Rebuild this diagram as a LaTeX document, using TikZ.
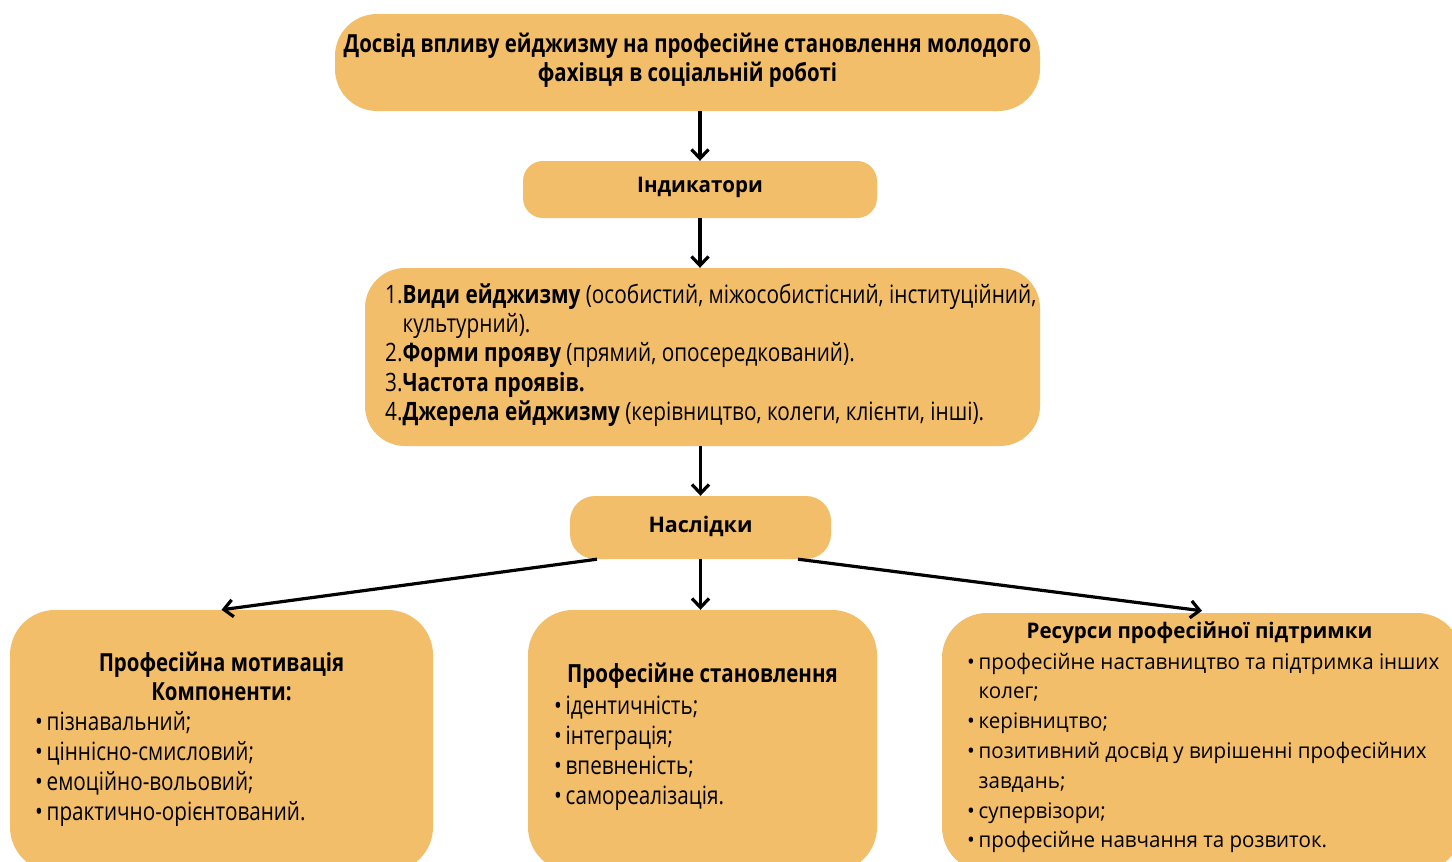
\documentclass[tikz,border=0pt]{standalone}
\usepackage{fontspec}
\setmainfont{Open Sans}
\newfontfamily\narrowfont[FakeStretch=0.82]{Open Sans}
\newfontfamily\midfont[FakeStretch=0.955]{Open Sans}
\usepackage{xcolor}
\usetikzlibrary{arrows.meta}
\definecolor{boxfill}{HTML}{F3BE6A}
\tikzset{
    box/.style={fill=boxfill, draw=none},
    arr/.style={line width=3.2pt, -{Straight Barb[length=9pt,width=17pt,line width=3.2pt]}}
}
\newcommand{\bul}{\makebox[11.5pt][l]{\textbullet}}

\begin{document}
\begin{tikzpicture}[x=1pt, y=-1pt]
        \clip (0,0) rectangle (1452,862);
        \fill[white] (0,0) rectangle (1452,862);

        \node[box, rounded corners=42pt, minimum width=705pt, minimum height=97pt] (title) at (687.5,62.5) {};
        \node[box, rounded corners=20pt, minimum width=354pt, minimum height=57pt] (ind) at (700,189.5) {};
        \node[box, rounded corners=40pt, minimum width=675pt, minimum height=178pt] (list) at (702.5,357) {};
        \node[box, rounded corners=25pt, minimum width=261pt, minimum height=63pt] (nasl) at (700.5,527.5) {};
        \node[box, rounded corners=45pt, minimum width=423pt, minimum height=262pt] (motiv) at (221.5,741) {};
        \node[box, rounded corners=45pt, minimum width=349pt, minimum height=262pt] (stan) at (702.5,741) {};
        \node[box, rounded corners=45pt, minimum width=520pt, minimum height=259pt] (res) at (1202,742.5) {};

        \node[align=center, font=\narrowfont\fontsize{24.9}{29}\selectfont\bfseries] (titletext) at (687.5,60)
            {Досвід впливу ейджизму на професійне становлення молодого\\фахівця в соціальній роботі};
        \node[font=\midfont\fontsize{21.5}{26}\selectfont\bfseries] (indtext) at (700,187) {Індикатори};
        \node[anchor=west, inner sep=0pt, align=left, font=\narrowfont\fontsize{25.3}{29.25}\selectfont] (listtext) at (385,355)
            {1.\textbf{Види ейджизму} (особистий, міжособистісний, інституційний,\\
             \phantom{1.}культурний).\\
             2.\textbf{Форми прояву} (прямий, опосередкований).\\
             3.\textbf{Частота проявів.}\\
             4.\textbf{Джерела ейджизму} (керівництво, колеги, клієнти, інші).};
        \node[font=\fontsize{21.5}{26}\selectfont\bfseries] (nasltext) at (700.5,526) {Наслідки};

        \node[align=center, font=\narrowfont\fontsize{24.9}{29}\selectfont\bfseries] (motivhead) at (221.5,676)
            {Професійна мотивація\\Компоненти:};
        \node[anchor=west, inner sep=0pt, align=left, font=\narrowfont\fontsize{25.2}{30}\selectfont] (motivlist) at (35,769)
            {\bul пізнавальний;\\ \bul ціннісно-смисловий;\\ \bul емоційно-вольовий;\\ \bul практично-орієнтований.};

        \node[font=\narrowfont\fontsize{25}{29}\selectfont\bfseries] (stanhead) at (702.5,676) {Професійне становлення};
        \node[anchor=west, inner sep=0pt, align=left, font=\narrowfont\fontsize{25.2}{30}\selectfont] (stanlist) at (554,753.5)
            {\bul ідентичність;\\ \bul інтеграція;\\ \bul впевненість;\\ \bul самореалізація.};

        \node[font=\midfont\fontsize{21.5}{26}\selectfont\bfseries] (reshead) at (1199.5,633) {Ресурси професійної підтримки};
        \node[anchor=west, inner sep=0pt, align=left, font=\midfont\fontsize{21.5}{29.8}\selectfont] (reslist) at (967,753)
            {\bul професійне наставництво та підтримка інших\\ \hspace*{11.5pt}колег;\\ \bul керівництво;\\
             \bul позитивний досвід у вирішенні професійних\\ \hspace*{11.5pt}завдань;\\ \bul супервізори;\\
             \bul професійне навчання та розвиток.};

        \draw[arr] (title.south -| ind.north) -- (ind.north);
        \draw[arr] (ind.south) -- (ind.south |- list.north);
        \draw[arr] (list.south -| nasl.north) -- (nasl.north);
        \draw[arr] ([xshift=-103.5pt]nasl.south) -- (motiv.north);
        \draw[arr] (nasl.south) -- (nasl.south |- stan.north);
        \draw[arr] ([xshift=97.5pt]nasl.south) -- ([yshift=2pt]res.north);
    \end{tikzpicture}
\end{document}
